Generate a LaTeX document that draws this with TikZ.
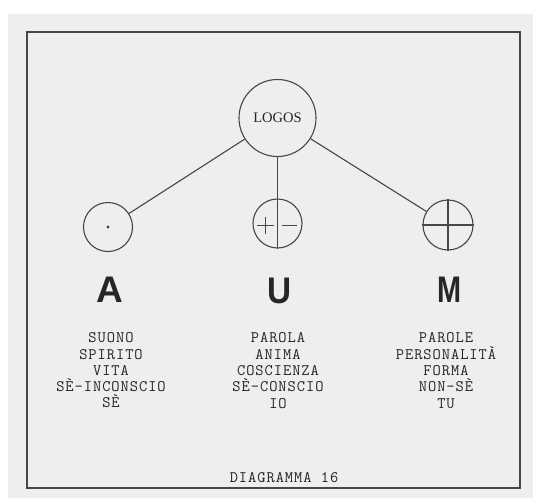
\documentclass[tikz,border=0pt]{standalone}
\usepackage{fontspec}
\newfontfamily\monof[LetterSpace=6.0]{Latin Modern Mono}
\newfontfamily\seriff{Liberation Serif}
\newfontfamily\sansf{Liberation Sans}
\usetikzlibrary{calc}
\definecolor{bgpaper}{RGB}{238,238,238}
\definecolor{inkline}{RGB}{70,70,70}
\definecolor{inktext}{RGB}{35,35,35}
\tikzset{
  sym/.style={circle, draw=inkline, line width=1.1pt, inner sep=0pt, minimum size=49pt},
  conn/.style={draw=inkline, line width=1.1pt},
  words/.style={align=center, text=inktext, font=\monof\fontsize{16}{16.3}\selectfont},
  bigletter/.style={text=black!85, font=\sansf\bfseries\fontsize{37}{37}\selectfont, inner sep=0pt},
}
\begin{document}
\begin{tikzpicture}[x=1pt, y=-1pt]
\useasboundingbox (0,0) rectangle (533,498);
\fill[white] (0,0) rectangle (533,498);
\fill[bgpaper] (8,14) rectangle (533,498);
\draw[draw=inkline, line width=1.8pt] (27,32) rectangle (520,488);

\node[circle, draw=inkline, line width=1.1pt, inner sep=0pt, minimum size=77pt,
      text=inktext, font=\seriff\fontsize{14.5}{14.5}\selectfont] (logos) at (277.5,118) {LOGOS};

\node[sym] (a) at (108,227) {};
\node[sym] (u) at (277.5,223.5) {};
\node[sym, minimum size=50pt] (m) at (448,225) {};

% connectors
\draw[conn] (logos) -- (a);
\draw[conn] (logos) -- (m);
\draw[conn] (logos.south) -- (u.south);

% symbol details
\fill[inkline] (a.center) circle (1.7pt);
\draw[conn] ($(u.center)+(-20.5,2)$) -- ($(u.center)+(-3.5,2)$);
\draw[conn] ($(u.center)+(-12,-6.5)$) -- ($(u.center)+(-12,10.5)$);
\draw[conn] ($(u.center)+(4.5,2)$) -- ($(u.center)+(19.5,2)$);
\draw[conn] (m.north) -- (m.south);
\draw[conn] (m.west) -- (m.east);

% big letters
\node[bigletter] (la) at (109.5,289.5) {A};
\node[bigletter] (lu) at (279.5,290.5) {\scalebox{0.9}[1]{U}};
\node[bigletter] (lm) at (449.5,289.5) {\scalebox{0.78}[1]{M}};

% word columns
\node[words] (wa) at (111,370.5) {SUONO\\SPIRITO\\VITA\\SÈ-INCONSCIO\\SÈ};
\node[words] (wu) at (278,370.5) {PAROLA\\ANIMA\\COSCIENZA\\SÈ-CONSCIO\\IO};
\node[words] (wm) at (446,370.5) {PAROLE\\PERSONALITÀ\\FORMA\\NON-SÈ\\TU};

\node[words] (cap) at (284,478) {DIAGRAMMA 16};
\end{tikzpicture}
\end{document}
